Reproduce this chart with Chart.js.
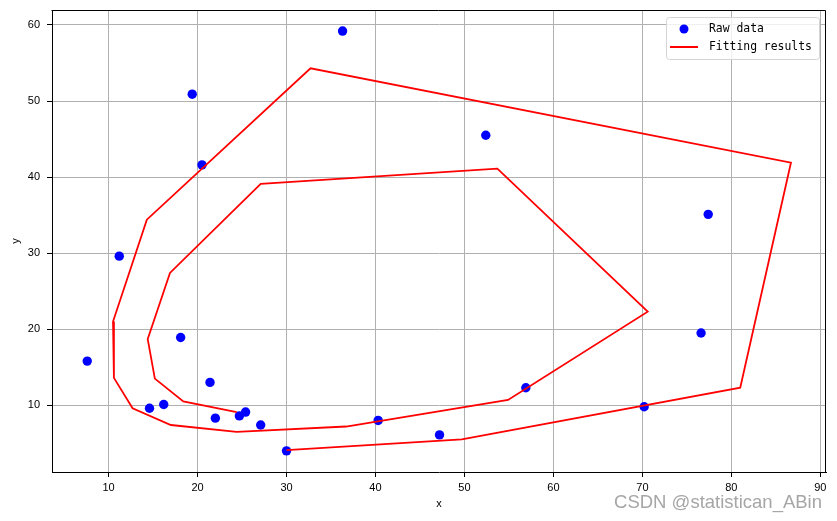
<!DOCTYPE html>
<html>
<head>
<meta charset="utf-8">
<script src="https://cdn.jsdelivr.net/npm/chart.js@4.4.0/dist/chart.umd.min.js"></script>
<style>
  html, body { margin: 0; padding: 0; background: #fff; }
  #wrap { width: 837px; height: 521px; }
</style>
</head>
<body>
<div id="wrap"><canvas id="myChart"></canvas></div>
<script>
// raw scatter points
const rawX = [7.6, 11.2, 19.4, 20.5, 36.3, 14.6, 16.2, 18.1, 21.4, 22.0, 24.7, 25.4, 27.1, 30.0, 40.3, 47.2, 56.9, 70.2, 76.6, 52.4, 77.4];
const rawY = [15.8, 29.6, 50.9, 41.6, 59.2, 9.6, 10.1, 18.9, 13.0, 8.3, 8.6, 9.1, 7.4, 4.0, 8.0, 6.1, 12.3, 9.8, 19.5, 45.5, 35.1];

// fitted path, in drawing order
const fitX = [30.0, 49.7, 81.0, 86.7, 32.7, 14.3, 10.5, 10.6, 12.7, 17.0, 24.4, 36.7, 54.9, 70.6, 53.7, 27.1, 16.9, 14.4, 15.2, 18.4, 24.4];
const fitY = [4.1, 5.5, 12.3, 41.9, 54.3, 34.4, 21.0, 13.6, 9.6, 7.4, 6.5, 7.2, 10.7, 22.3, 41.1, 39.1, 27.4, 18.7, 13.5, 10.5, 9.1];

const xTicks = [10, 20, 30, 40, 50, 60, 70, 80, 90];
const yTicks = [10, 20, 30, 40, 50, 60];
const seriesNames = ['Raw data', 'Fitting results'];

const tickFont = { family: "'Liberation Sans', Arial, sans-serif", size: 11 };

// top/right spines like matplotlib
const spines = {
  id: 'spines',
  afterDraw(chart) {
    const c = chart.ctx;
    const a = chart.chartArea;
    c.save();
    c.strokeStyle = '#000';
    c.lineWidth = 1;
    c.beginPath();
    c.moveTo(Math.round(a.left) - 0.5, Math.round(a.top) + 0.5);
    c.lineTo(Math.round(a.right) - 0.5, Math.round(a.top) + 0.5);
    c.lineTo(Math.round(a.right) - 0.5, Math.round(a.bottom) + 0.5);
    c.stroke();
    c.restore();
  }
};

// legend box in the upper right corner
const boxLegend = {
  id: 'boxLegend',
  afterDraw(chart) {
    const c = chart.ctx;
    const a = chart.chartArea;
    const w = 153, h = 42;
    const x0 = Math.round(a.right - 7 - w), y0 = Math.round(a.top + 7);
    const ds = chart.data.datasets;
    c.save();
    c.beginPath();
    c.roundRect(x0 + 0.5, y0 + 0.5, w, h, 3);
    c.fillStyle = 'rgba(255,255,255,0.8)';
    c.fill();
    c.strokeStyle = '#d4d4d4';
    c.lineWidth = 1;
    c.stroke();

    c.beginPath();
    c.arc(x0 + 18, y0 + 12, 4.5, 0, Math.PI * 2);
    c.fillStyle = ds[0].backgroundColor;
    c.fill();

    c.beginPath();
    c.moveTo(x0 + 4, y0 + 30);
    c.lineTo(x0 + 32, y0 + 30);
    c.strokeStyle = ds[1].borderColor;
    c.lineWidth = 2;
    c.stroke();

    c.fillStyle = '#000';
    c.font = "11.4px 'DejaVu Sans Mono', monospace";
    c.textBaseline = 'middle';
    c.textAlign = 'left';
    c.fillText(ds[0].label, x0 + 43, y0 + 12);
    c.fillText(ds[1].label, x0 + 43, y0 + 30);
    c.restore();
  }
};

const watermark = {
  id: 'watermark',
  afterDraw(chart) {
    const c = chart.ctx;
    c.save();
    c.font = "18.5px 'Liberation Sans', Arial, sans-serif";
    c.fillStyle = '#a6a6a6';
    c.textAlign = 'right';
    c.textBaseline = 'alphabetic';
    c.fillText('CSDN @statistican_ABin', 822, 508);
    c.restore();
  }
};

const context = document.getElementById('myChart');

new Chart(context, {
  type: 'scatter',
  data: {
    datasets: [
      {
        label: seriesNames[0],
        data: rawX.map((x, i) => ({ x: x, y: rawY[i] })),
        backgroundColor: '#0000ff',
        borderWidth: 0,
        pointRadius: 4.7,
        pointHoverRadius: 4.7,
        order: 1
      },
      {
        label: seriesNames[1],
        data: fitX.map((x, i) => ({ x: x, y: fitY[i] })),
        showLine: true,
        borderColor: '#ff0000',
        backgroundColor: '#ff0000',
        borderWidth: 1.8,
        pointRadius: 0,
        pointHoverRadius: 0,
        tension: 0,
        fill: false,
        order: 0
      }
    ]
  },
  options: {
    responsive: true,
    maintainAspectRatio: false,
    animation: false,
    layout: {
      padding: { top: 10, right: 11, left: 0, bottom: 0 }
    },
    plugins: {
      legend: { display: false },
      tooltip: { enabled: false }
    },
    scales: {
      x: {
        type: 'linear',
        min: 3.64,
        max: 90.64,
        afterBuildTicks: (s) => { s.ticks = xTicks.map(v => ({ value: v })); },
        afterFit: (s) => { s.height = 49; s.paddingLeft = 0; s.paddingRight = 0; },
        ticks: { color: '#000', font: tickFont, padding: 4, maxRotation: 0, autoSkip: false },
        grid: { color: '#b0b0b0', lineWidth: 1, tickColor: '#000', tickLength: 5, tickWidth: 1 },
        border: { color: '#000', width: 1 },
        title: { display: true, text: 'x', color: '#000', font: tickFont, padding: { top: 0, bottom: 10 } }
      },
      y: {
        type: 'linear',
        min: 1.22,
        max: 61.97,
        afterBuildTicks: (s) => { s.ticks = yTicks.map(v => ({ value: v })); },
        afterFit: (s) => { s.width = 52; s.paddingTop = 0; s.paddingBottom = 0; },
        ticks: { color: '#000', font: tickFont, padding: 7, autoSkip: false },
        grid: { color: '#b0b0b0', lineWidth: 1, tickColor: '#000', tickLength: 5, tickWidth: 1 },
        border: { color: '#000', width: 1 },
        title: { display: true, text: 'y', color: '#000', font: tickFont, padding: { top: 9, bottom: 0 } }
      }
    }
  },
  plugins: [spines, boxLegend, watermark]
});
</script>
</body>
</html>
